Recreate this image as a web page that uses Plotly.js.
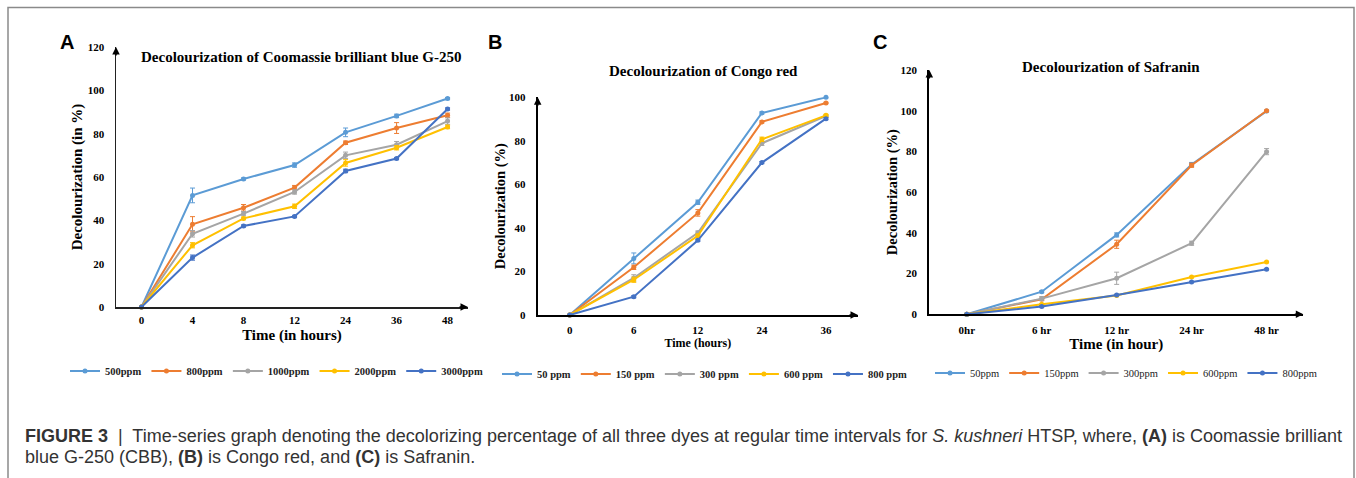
<!DOCTYPE html>
<html>
<head>
<meta charset="utf-8">
<script src="https://cdn.plot.ly/plotly-3.0.1.min.js"></script>
<style>html,body{margin:0;padding:0;background:#fff}#chart{width:1356px;height:478px}</style>
</head>
<body>
<div id="chart"></div>
<script>
// ---------- Panel A: Coomassie brilliant blue G-250 ----------
const catsA = ['0', '4', '8', '12', '24', '36', '48'];
const namesA = ['500ppm', '800ppm', '1000ppm', '2000ppm', '3000ppm'];
const a500  = [0, 51.5, 59.1, 65.5, 80.6, 88.2, 96.2];
const a800  = [0, 38.2, 45.8, 55.1, 75.8, 82.6, 88.5];
const a1000 = [0, 33.8, 43.1, 53.1, 70.0, 74.9, 85.8];
const a2000 = [0, 28.5, 40.9, 46.5, 66.5, 73.5, 83.1];
const a3000 = [0, 22.8, 37.4, 41.8, 62.8, 68.5, 91.4];
const errA500  = [0, 3.4, 0.5, 1.0, 2.0, 0.8, 0.5];
const errA800  = [0, 3.5, 1.5, 1.0, 0.8, 2.5, 1.0];
const errA1000 = [0, 1.5, 1.0, 1.0, 1.5, 1.5, 1.5];
const errA2000 = [0, 1.2, 0.6, 1.0, 1.5, 1.0, 0.8];
const errA3000 = [0, 1.2, 0.5, 0.5, 0.8, 0.5, 0.5];

// ---------- Panel B: Congo red ----------
const catsB = ['0', '6', '12', '24', '36'];
const namesB = ['50 ppm', '150 ppm', '300 ppm', '600 ppm', '800 ppm'];
const b50  = [0, 26.0, 51.8, 92.8, 100];
const b150 = [0, 21.9, 46.9, 88.7, 97.4];
const b300 = [0, 17.0, 37.8, 78.9, 91.4];
const b600 = [0, 16.2, 36.4, 80.7, 91.7];
const b800 = [0, 8.4, 34.3, 70.0, 90.2];
const errB50  = [0, 2.5, 1.0, 0.5, 0.3];
const errB150 = [0, 1.0, 1.5, 0.5, 0.3];
const errB300 = [0, 1.5, 0.8, 1.0, 0.5];
const errB600 = [0, 1.2, 0.8, 1.0, 0.5];
const errB800 = [0, 0.5, 0.5, 0.5, 0.5];

// ---------- Panel C: Safranin ----------
const catsC = ['0hr', '6 hr', '12 hr', '24 hr', '48 hr'];
const namesC = ['50ppm', '150ppm', '300ppm', '600ppm', '800ppm'];
const c50  = [0, 11.1, 39.0, 73.6, 99.8];
const c150 = [0, 7.4, 34.4, 73.2, 100];
const c300 = [0, 7.7, 17.7, 34.9, 79.9];
const c600 = [0, 4.9, 9.2, 18.3, 25.7];
const c800 = [0, 3.8, 9.5, 15.9, 22.1];
const errC50  = [0, 0.5, 1.0, 1.0, 0.3];
const errC150 = [0, 0.5, 2.0, 1.0, 0.3];
const errC300 = [0, 1.0, 3.0, 1.0, 1.5];
const errC600 = [0, 0.3, 0.3, 0.3, 0.3];
const errC800 = [0, 0.3, 0.3, 0.3, 0.3];

const colors = ['#5B9BD5', '#ED7D31', '#A5A5A5', '#FFC000', '#4472C4'];

const W = 1356, H = 478;
const px = v => v / W;
const py = v => 1 - v / H;

function series(x, ys, errs, names, xa, ya, leg) {
  return ys.map((y, i) => ({
    type: 'scatter', mode: 'lines+markers',
    x: x, y: y, name: names[i],
    xaxis: xa, yaxis: ya, legend: leg,
    line: {color: colors[i], width: 2},
    marker: {color: colors[i], size: 5, symbol: 'circle'},
    error_y: {type: 'data', array: errs[i], visible: true, color: colors[i], thickness: 1, width: 2.5},
    cliponaxis: false
  }));
}

const data = [].concat(
  series(catsA, [a500, a800, a1000, a2000, a3000], [errA500, errA800, errA1000, errA2000, errA3000], namesA, 'x', 'y', 'legend'),
  series(catsB, [b50, b150, b300, b600, b800], [errB50, errB150, errB300, errB600, errB800], namesB, 'x2', 'y2', 'legend2'),
  series(catsC, [c50, c150, c300, c600, c800], [errC50, errC150, errC300, errC600, errC800], namesC, 'x3', 'y3', 'legend3')
);

const serif = 'Liberation Serif, Times New Roman, serif';
const sans = 'Liberation Sans, Arial, sans-serif';
const tickFont = {family: serif, size: 11, color: '#000', weight: 'bold'};

function xaxis(domain, yanchor, range, title, tsize, standoff, lc, lw, tls) {
  return {
    domain: domain, anchor: yanchor, type: 'category', range: range,
    showgrid: false, zeroline: false, showline: true, linecolor: lc, linewidth: lw,
    ticks: '', tickfont: tickFont, ticklabelstandoff: tls, automargin: false, fixedrange: true,
    title: {text: title, font: {family: serif, size: tsize, color: '#000', weight: 'bold'}, standoff: standoff}
  };
}
function yaxis(domain, xanchor, range, dtick, title, tsize, standoff, lc, lw) {
  return {
    domain: domain, anchor: xanchor, range: range, dtick: dtick, tick0: 0,
    showgrid: false, zeroline: false, showline: true, linecolor: lc, linewidth: lw,
    ticks: '', tickfont: tickFont, ticklabelstandoff: 8, automargin: false, fixedrange: true,
    title: {text: title, font: {family: serif, size: tsize, color: '#000', weight: 'bold'}, standoff: standoff}
  };
}

function arrowUp(xp, yp) {
  return {xref: 'paper', yref: 'paper', x: px(xp), y: py(yp), text: '', showarrow: true,
    arrowhead: 2, arrowsize: 1, arrowwidth: 1.5, arrowcolor: '#000', ax: 0, ay: 10, standoff: 0};
}
function arrowRight(xp, yp) {
  return {xref: 'paper', yref: 'paper', x: px(xp), y: py(yp), text: '', showarrow: true,
    arrowhead: 2, arrowsize: 1, arrowwidth: 1.5, arrowcolor: '#000', ax: -10, ay: 0, standoff: 0};
}
function label(text, xp, yp, size, family, opts) {
  return Object.assign({xref: 'paper', yref: 'paper', x: px(xp), y: py(yp), text: text, showarrow: false,
    xanchor: 'center', yanchor: 'middle', font: {family: family, size: size, color: '#000'}}, opts || {});
}

const legendBase = {orientation: 'h', yanchor: 'middle', xanchor: 'left', bgcolor: 'rgba(0,0,0,0)',
  traceorder: 'normal', itemwidth: 30, tracegroupgap: 0, itemclick: false, itemdoubleclick: false};

const captionFont = {family: sans, size: 18, color: '#333'};

const layout = {
  width: W, height: H,
  margin: {l: 0, r: 0, t: 0, b: 0},
  paper_bgcolor: '#fff', plot_bgcolor: 'rgba(0,0,0,0)',
  showlegend: true,
  xaxis:  xaxis([px(116), px(468)], 'y', [-0.5, 6.4], 'Time (in hours)', 15, 5, '#222', 1.5, 2),
  yaxis:  yaxis([py(307), py(47)], 'x', [0, 120], 20, 'Decolourization (in %)', 15, 1, '#222', 1.5),
  xaxis2: xaxis([px(537.7), px(858)], 'y2', [-0.5, 4.5], 'Time (hours)', 12, 3, '#000', 2, 4),
  yaxis2: yaxis([py(315), py(97.3)], 'x2', [0, 100], 20, 'Decolourization (%)', 14.5, 0, '#000', 2),
  xaxis3: xaxis([px(929.3), px(1303.3)], 'y3', [-0.5, 4.49], 'Time (in hour)', 15, 3, '#000', 2, 4),
  yaxis3: yaxis([py(314.3), py(70)], 'x3', [0, 120], 20, 'Decolourization (%)', 14.5, 0, '#000', 2),
  legend:  Object.assign({}, legendBase, {x: px(65), y: py(371),
    font: {family: serif, size: 10.5, color: '#222', weight: 'bold'}}),
  legend2: Object.assign({}, legendBase, {x: px(497), y: py(374),
    font: {family: serif, size: 10.5, color: '#222', weight: 'bold'}}),
  legend3: Object.assign({}, legendBase, {x: px(930), y: py(373),
    font: {family: serif, size: 10.5, color: '#222'}}),
  shapes: [
    {type: 'rect', xref: 'paper', yref: 'paper', x0: px(8), x1: px(1354), y0: -0.1, y1: py(7.5),
     line: {color: '#8a8a8a', width: 1.5}, fillcolor: 'rgba(0,0,0,0)', layer: 'below'}
  ],
  annotations: [
    label('<b>A</b>', 67, 42, 20, sans),
    label('<b>B</b>', 495, 42, 20, sans),
    label('<b>C</b>', 880, 42, 20, sans),
    label('<b>Decolourization of Coomassie brilliant blue G-250</b>', 301, 57, 15, serif),
    label('<b>Decolourization of Congo red</b>', 703, 71, 15, serif),
    label('<b>Decolourization of Safranin</b>', 1111, 67, 15, serif),
    arrowUp(116, 47), arrowRight(468, 307),
    arrowUp(537.7, 97.3), arrowRight(858, 315),
    arrowUp(929.3, 70), arrowRight(1303.3, 314.3),
    label('<b>FIGURE 3</b>  |  Time-series graph denoting the decolorizing percentage of all three dyes at regular time intervals for <i>S. kushneri</i> HTSP, where, <b>(A)</b> is Coomassie brilliant',
      23, 436, 18, sans, {xanchor: 'left', yanchor: 'middle', align: 'left', font: captionFont}),
    label('blue G-250 (CBB), <b>(B)</b> is Congo red, and <b>(C)</b> is Safranin.',
      23, 457, 18, sans, {xanchor: 'left', yanchor: 'middle', align: 'left', font: captionFont})
  ]
};

Plotly.newPlot('chart', data, layout, {displayModeBar: false, staticPlot: true});
</script>
</body>
</html>
